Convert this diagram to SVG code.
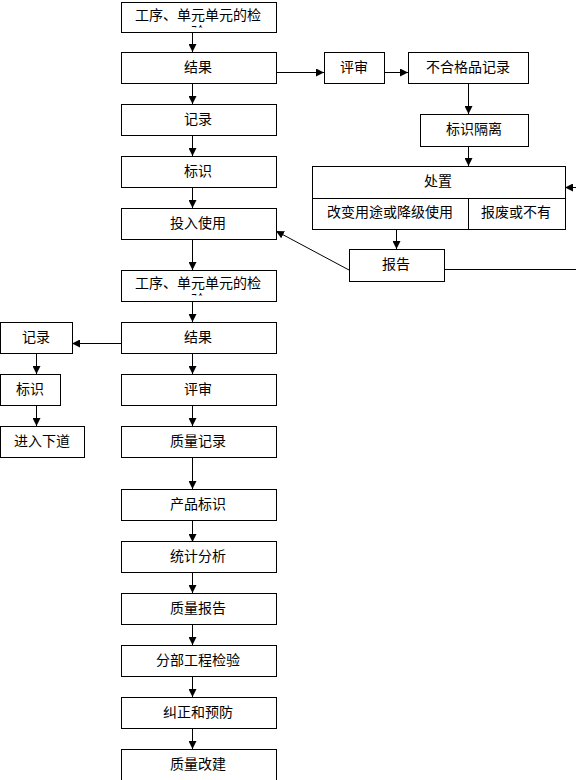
<svg xmlns="http://www.w3.org/2000/svg" width="576" height="780" viewBox="0 0 576 780">
<style>
.b{fill:#fff;stroke:#000;stroke-width:1}
.t{font-family:"Liberation Sans","Noto Sans CJK SC",sans-serif;font-size:14px;fill:#000;text-anchor:middle;dominant-baseline:central}
.c{stroke:#000;stroke-width:1;fill:none}
</style>
<defs>
<marker id="ah" markerUnits="userSpaceOnUse" markerWidth="8" markerHeight="8" viewBox="0 0 8 8" refX="8" refY="4" orient="auto">
<path d="M0,0 L8,4 L0,8 Z" fill="#000"/>
</marker>
<clipPath id="clip1"><rect x="121" y="2" width="155" height="25.5"/></clipPath>
<clipPath id="clip2"><rect x="121" y="270" width="155" height="25.5"/></clipPath>
</defs>
<rect width="576" height="780" fill="#fff"/>
<g id="connectors">
<line class="c" x1="192.5" y1="32" x2="192.5" y2="52" marker-end="url(#ah)"/>
<line class="c" x1="192.5" y1="83" x2="192.5" y2="104" marker-end="url(#ah)"/>
<line class="c" x1="192.5" y1="135" x2="192.5" y2="156" marker-end="url(#ah)"/>
<line class="c" x1="192.5" y1="187" x2="192.5" y2="208" marker-end="url(#ah)"/>
<line class="c" x1="192.5" y1="239" x2="192.5" y2="270" marker-end="url(#ah)"/>
<line class="c" x1="192.5" y1="302" x2="192.5" y2="322" marker-end="url(#ah)"/>
<line class="c" x1="192.5" y1="354" x2="192.5" y2="374" marker-end="url(#ah)"/>
<line class="c" x1="192.5" y1="406" x2="192.5" y2="426" marker-end="url(#ah)"/>
<line class="c" x1="192.5" y1="458" x2="192.5" y2="489" marker-end="url(#ah)"/>
<line class="c" x1="192.5" y1="520" x2="192.5" y2="542" marker-end="url(#ah)"/>
<line class="c" x1="192.5" y1="572" x2="192.5" y2="593" marker-end="url(#ah)"/>
<line class="c" x1="192.5" y1="624" x2="192.5" y2="645" marker-end="url(#ah)"/>
<line class="c" x1="192.5" y1="677" x2="192.5" y2="697" marker-end="url(#ah)"/>
<line class="c" x1="192.5" y1="728" x2="192.5" y2="749" marker-end="url(#ah)"/>
<line class="c" x1="121" y1="343.5" x2="72" y2="343.5" marker-end="url(#ah)"/>
<line class="c" x1="36.5" y1="354" x2="36.5" y2="374" marker-end="url(#ah)"/>
<line class="c" x1="36.5" y1="406" x2="36.5" y2="426" marker-end="url(#ah)"/>
<line class="c" x1="276" y1="72.5" x2="324" y2="72.5" marker-end="url(#ah)"/>
<line class="c" x1="384" y1="72.5" x2="408" y2="72.5" marker-end="url(#ah)"/>
<line class="c" x1="468.5" y1="83" x2="468.5" y2="114" marker-end="url(#ah)"/>
<line class="c" x1="468.5" y1="146" x2="468.5" y2="166" marker-end="url(#ah)"/>
<line class="c" x1="396.5" y1="229" x2="396.5" y2="249" marker-end="url(#ah)"/>
<line class="c" x1="576" y1="187.5" x2="565" y2="187.5" marker-end="url(#ah)"/>
<line class="c" x1="444" y1="269.5" x2="576" y2="269.5"/>
<line class="c" x1="349" y1="270" x2="276" y2="231" marker-end="url(#ah)"/>
</g>
<g id="n1"><rect class="b" x="121.5" y="2.5" width="155" height="30"/><g clip-path="url(#clip1)"><text class="t" x="198" y="15">工序、单元单元的检</text><text class="t" x="198" y="32">验</text></g></g>
<g id="n2"><rect class="b" x="121.5" y="52.5" width="155" height="31"/><text class="t" x="198" y="67">结果</text></g>
<g id="n3"><rect class="b" x="121.5" y="104.5" width="155" height="31"/><text class="t" x="198" y="119">记录</text></g>
<g id="n4"><rect class="b" x="121.5" y="156.5" width="155" height="31"/><text class="t" x="198" y="171">标识</text></g>
<g id="n5"><rect class="b" x="121.5" y="208.5" width="155" height="31"/><text class="t" x="198" y="223">投入使用</text></g>
<g id="n6"><rect class="b" x="121.5" y="270.5" width="155" height="31"/><g clip-path="url(#clip2)"><text class="t" x="198" y="283">工序、单元单元的检</text><text class="t" x="198" y="300">验</text></g></g>
<g id="n7"><rect class="b" x="121.5" y="322.5" width="155" height="31"/><text class="t" x="198" y="337">结果</text></g>
<g id="n8"><rect class="b" x="121.5" y="374.5" width="155" height="31"/><text class="t" x="198" y="389">评审</text></g>
<g id="n9"><rect class="b" x="121.5" y="426.5" width="155" height="31"/><text class="t" x="198" y="441">质量记录</text></g>
<g id="n10"><rect class="b" x="121.5" y="489.5" width="155" height="31"/><text class="t" x="198" y="504">产品标识</text></g>
<g id="n11"><rect class="b" x="121.5" y="541.5" width="155" height="31"/><text class="t" x="198" y="556">统计分析</text></g>
<g id="n12"><rect class="b" x="121.5" y="593.5" width="155" height="31"/><text class="t" x="198" y="608">质量报告</text></g>
<g id="n13"><rect class="b" x="121.5" y="645.5" width="155" height="31"/><text class="t" x="198" y="660">分部工程检验</text></g>
<g id="n14"><rect class="b" x="121.5" y="697.5" width="155" height="31"/><text class="t" x="198" y="712">纠正和预防</text></g>
<g id="n15"><rect class="b" x="121.5" y="749.5" width="155" height="40"/><text class="t" x="198" y="764">质量改建</text></g>
<g id="l1"><rect class="b" x="0.5" y="322.5" width="72" height="31"/><text class="t" x="36" y="337">记录</text></g>
<g id="l2"><rect class="b" x="0.5" y="374.5" width="60" height="31"/><text class="t" x="30" y="389">标识</text></g>
<g id="l3"><rect class="b" x="0.5" y="426.5" width="84" height="31"/><text class="t" x="42" y="441">进入下道</text></g>
<g id="r1"><rect class="b" x="324.5" y="52.5" width="60" height="31"/><text class="t" x="354" y="67">评审</text></g>
<g id="r2"><rect class="b" x="408.5" y="52.5" width="120" height="31"/><text class="t" x="468" y="67">不合格品记录</text></g>
<g id="r3"><rect class="b" x="420.5" y="114.5" width="108" height="32"/><text class="t" x="474" y="129">标识隔离</text></g>
<g id="r4"><rect class="b" x="312.5" y="166.5" width="253" height="63"/><line class="c" x1="312.5" y1="198.5" x2="565.5" y2="198.5"/><line class="c" x1="468.5" y1="198.5" x2="468.5" y2="229.5"/><text class="t" x="438" y="181">处置</text><text class="t" x="390" y="212">改变用途或降级使用</text><text class="t" x="516" y="212">报废或不有</text></g>
<g id="r5"><rect class="b" x="349.5" y="249.5" width="95" height="32"/><text class="t" x="396" y="264">报告</text></g>
</svg>
